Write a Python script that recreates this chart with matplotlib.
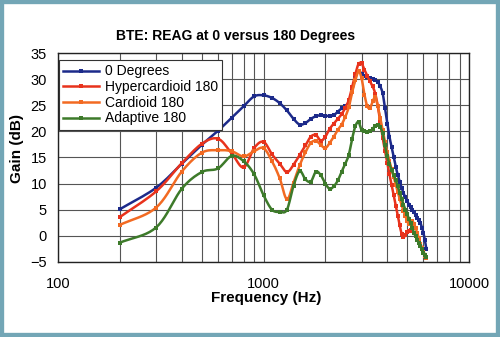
import numpy as np
import matplotlib
matplotlib.use("Agg")
import matplotlib.pyplot as plt
from matplotlib.lines import Line2D
from matplotlib.patches import Rectangle

plt.rcParams['font.family'] = ['Liberation Sans', 'DejaVu Sans']

# measurement points, 100 Hz apart
freq_hz = list(range(200, 6300, 100))

gain_0deg = [5.1, 9.2, 13.8, 17.4, 20.1, 22.6, 24.8, 26.7, 26.9,
             26.4, 25.4, 24.0, 22.4, 21.3, 21.6, 22.4, 22.9, 23.1, 23.0,
             22.9, 23.1, 23.8, 24.4, 24.9, 25.6, 27.8, 30.4, 31.6, 31.0,
             30.6, 30.4, 30.2, 30.0, 29.8, 29.4, 28.6, 27.3, 24.5, 21.5,
             19.0, 17.0, 15.0, 13.2, 11.7, 10.4, 9.2, 8.2, 7.4, 6.7,
             6.0, 5.5, 5.0, 4.5, 4.0, 3.5, 3.0, 2.5, 1.6, 0.6,
             -0.8, -2.5]

gain_hyper = [3.6, 8.5, 13.9, 17.6, 18.6, 15.8, 13.1, 16.8, 18.0,
              15.6, 13.8, 12.2, 13.6, 15.5, 17.3, 19.0, 19.3, 18.2, 19.0,
              20.5, 21.5, 22.4, 23.3, 24.5, 26.0, 28.5, 31.0, 32.9, 33.0,
              31.8, 30.6, 29.6, 28.6, 27.2, 24.8, 21.8, 18.8, 16.3, 14.0,
              11.8, 9.8, 7.8, 5.8, 3.8, 2.0, 0.4, -0.3, 0.2, 0.7,
              1.0, 1.1, 1.0, 0.5, 0.0, -0.5, -1.0, -1.6, -2.3, -3.0,
              -3.6, -4.2]

gain_cardioid = [2.1, 5.4, 12.3, 15.9, 16.4, 16.2, 15.2, 16.2, 16.8,
                 14.3, 11.0, 7.0, 10.2, 13.5, 16.0, 17.8, 18.2, 17.4, 16.8,
                 17.8, 19.0, 20.3, 21.3, 22.8, 24.6, 27.5, 29.8, 31.5, 30.2,
                 27.0, 24.8, 24.5, 25.8, 26.5, 24.8, 22.5, 20.3, 18.0, 16.0,
                 14.3, 12.8, 11.3, 9.8, 8.4, 7.1, 5.9, 4.8, 3.8, 2.9,
                 2.2, 2.5, 2.8, 2.3, 1.5, 0.5, -0.5, -1.5, -2.3, -3.1,
                 -3.8, -4.3]

gain_adaptive = [-1.3, 1.6, 9.0, 12.2, 12.9, 15.3, 14.3, 11.8, 7.8,
                 5.0, 4.6, 5.0, 9.6, 12.4, 10.8, 10.4, 12.3, 11.6, 10.0,
                 9.0, 9.5, 10.6, 12.3, 13.8, 15.5, 18.6, 21.0, 21.8, 20.2,
                 20.0, 19.9, 20.0, 20.5, 21.1, 21.3, 20.8, 19.6, 17.3, 15.2,
                 13.8, 12.6, 11.6, 10.7, 9.5, 8.3, 7.1, 6.0, 5.0, 4.2,
                 3.3, 2.5, 1.5, 0.6, -0.1, -0.8, -1.4, -2.0, -2.6, -3.2,
                 -3.7, -4.0]

labels = ["0 Degrees", "Hypercardioid 180", "Cardioid 180", "Adaptive 180"]
colors = ["#1c2a8a", "#e8321c", "#f26a22", "#3d7a2a"]
series = [gain_0deg, gain_hyper, gain_cardioid, gain_adaptive]


def smooth(xs, ys, n=10):
    # Catmull-Rom curve through the points, in log-frequency space
    x = np.log10(np.asarray(xs, dtype=float))
    y = np.asarray(ys, dtype=float)
    x = np.concatenate([[2 * x[0] - x[1]], x, [2 * x[-1] - x[-2]]])
    y = np.concatenate([[2 * y[0] - y[1]], y, [2 * y[-1] - y[-2]]])
    t = np.linspace(0, 1, n, endpoint=False)
    ox, oy = [], []
    for i in range(1, len(x) - 2):
        for arr, out in ((x, ox), (y, oy)):
            p0, p1, p2, p3 = arr[i - 1], arr[i], arr[i + 1], arr[i + 2]
            out.append(0.5 * (2 * p1 + (-p0 + p2) * t
                              + (2 * p0 - 5 * p1 + 4 * p2 - p3) * t ** 2
                              + (-p0 + 3 * p1 - 3 * p2 + p3) * t ** 3))
    ox.append([x[-2]])
    oy.append([y[-2]])
    return 10 ** np.concatenate(ox), np.concatenate(oy)


fig = plt.figure(figsize=(5.0, 3.37), dpi=100)
ax = fig.add_axes([0.116, 0.2226, 0.822, 0.6201])

for vals, col in zip(series, colors):
    sx, sy = smooth(freq_hz, vals)
    ax.plot(sx, sy, color=col, lw=1.8, solid_capstyle='round')
    ax.plot(freq_hz, vals, ls='none', marker='s', ms=3.4, mew=0, color=col)

ax.set_xscale('log')
ax.set_xlim(100, 10000)
ax.set_ylim(-5, 35)
ax.set_yticks(range(-5, 36, 5))
ax.set_xticks([100, 1000, 10000])
ax.set_xticklabels(["100", "1000", "10000"])
ax.xaxis.set_minor_formatter(plt.NullFormatter())
ax.tick_params(which='both', length=0, labelsize=10.5)
ax.tick_params(axis='x', pad=11)
ax.tick_params(axis='y', pad=8)
ax.grid(True, which='both', color='#555555', lw=0.8)
ax.set_axisbelow(True)
for sp in ax.spines.values():
    sp.set_color('#222222')
    sp.set_linewidth(1.0)

handles = [Line2D([], [], color=c, lw=1.8, marker='s', ms=3.4, mew=0)
           for c in colors]
leg = ax.legend(handles, labels, loc='upper left', bbox_to_anchor=(0.002, 0.965),
                borderaxespad=0, fontsize=10, frameon=True, fancybox=False,
                handlelength=2.6, handletextpad=0.4, labelspacing=0.12,
                borderpad=0.3)
leg.get_frame().set_edgecolor('#333333')
leg.get_frame().set_linewidth(0.8)
leg.get_frame().set_alpha(1.0)

fig.text(0.471, 0.893, "BTE: REAG at 0 versus 180 Degrees", ha='center',
         va='center', fontsize=10, fontweight='bold')
fig.text(0.533, 0.116, "Frequency (Hz)", ha='center', va='center',
         fontsize=11, fontweight='bold')
fig.text(0.035, 0.56, "Gain (dB)", ha='center', va='center', rotation=90,
         fontsize=11, fontweight='bold')

fig.patches.append(Rectangle((0, 0), 1, 1, transform=fig.transFigure,
                             fill=False, edgecolor='#73a6b6', linewidth=6))

fig.savefig("out.png", dpi=100)
